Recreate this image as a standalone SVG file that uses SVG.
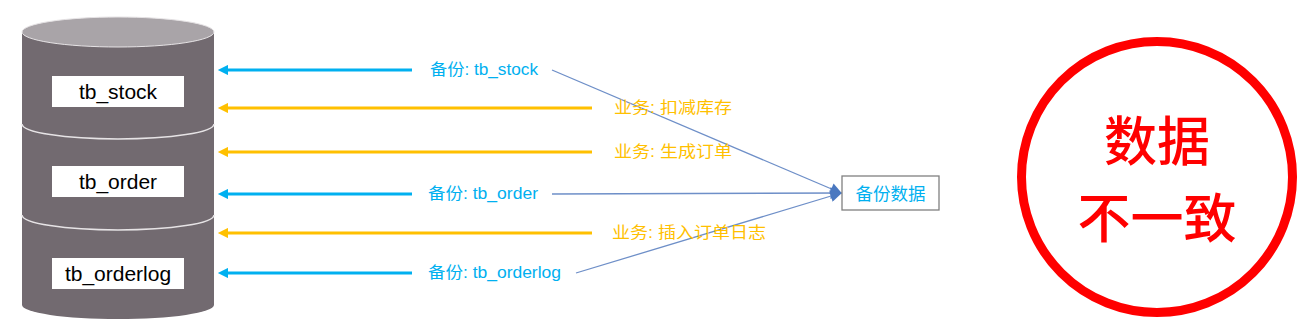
<svg xmlns="http://www.w3.org/2000/svg" width="1312" height="336" viewBox="0 0 1312 336">
<style>
.body{fill:#726A70}
.sep{fill:none;stroke:#E6E3E5;stroke-width:1.5}
.lbl{fill:#FFFFFF}
.tname{font-family:"Liberation Sans","Noto Sans",sans-serif;font-size:21px;fill:#000}
.blue{stroke:#00B0F0;stroke-width:3;fill:none}
.orange{stroke:#FFC000;stroke-width:3;fill:none}
.thin{stroke:#6E8FC8;stroke-width:1.3;fill:none}
.tb{font-family:"Liberation Sans","Noto Sans CJK SC",sans-serif;font-size:16px;fill:#00B0F0}
.to{font-family:"Liberation Sans","Noto Sans CJK SC",sans-serif;font-size:16px;fill:#FFC000}
.big{font-family:"Noto Sans CJK SC",sans-serif;font-size:53px;fill:#FF0000;font-weight:500}
</style>
<defs>
<marker id="hb" viewBox="0 0 10 10" refX="1" refY="5" markerWidth="4" markerHeight="3.4" orient="auto-start-reverse" markerUnits="strokeWidth"><path d="M0,0 L10,5 L0,10 Z" fill="#00B0F0"/></marker>
<marker id="ho" viewBox="0 0 10 10" refX="1" refY="5" markerWidth="4" markerHeight="3.4" orient="auto-start-reverse" markerUnits="strokeWidth"><path d="M0,0 L10,5 L0,10 Z" fill="#FFC000"/></marker>
<marker id="ht" viewBox="0 0 10 10" refX="9" refY="5" markerWidth="10" markerHeight="9" orient="auto" markerUnits="strokeWidth"><path d="M0,0 L10,5 L0,10 Z" fill="#4A78C0"/></marker>
</defs>
<g id="database">
<path class="body" d="M22,32 L22,305 A96,14 0 0 0 214,305 L214,32 Z"/>
<ellipse cx="118" cy="32" rx="96" ry="15" fill="#A9A4A8" stroke="#E6E3E5" stroke-width="1"/>
<path class="sep" d="M22,124 A96,15 0 0 0 214,124"/>
<path class="sep" d="M22,215 A96,15 0 0 0 214,215"/>
</g>
<g id="tb_stock">
<rect class="lbl" x="52" y="76" width="132" height="31"/>
<text class="tname" x="118" y="99" text-anchor="middle">tb_stock</text>
</g>
<g id="tb_order">
<rect class="lbl" x="52" y="166" width="132" height="31"/>
<text class="tname" x="118" y="189" text-anchor="middle">tb_order</text>
</g>
<g id="tb_orderlog">
<rect class="lbl" x="52" y="258" width="132" height="31"/>
<text class="tname" x="118" y="281" text-anchor="middle">tb_orderlog</text>
</g>
<g id="connectors">
<line class="blue" x1="412" y1="70" x2="227" y2="70" marker-end="url(#hb)"/>
<line class="orange" x1="592" y1="108" x2="227" y2="108" marker-end="url(#ho)"/>
<line class="orange" x1="592" y1="152" x2="227" y2="152" marker-end="url(#ho)"/>
<line class="blue" x1="412" y1="194" x2="227" y2="194" marker-end="url(#hb)"/>
<line class="orange" x1="592" y1="233" x2="227" y2="233" marker-end="url(#ho)"/>
<line class="blue" x1="412" y1="273" x2="227" y2="273" marker-end="url(#hb)"/>
<line class="thin" x1="552" y1="70" x2="841" y2="193" marker-end="url(#ht)"/>
<line class="thin" x1="552" y1="194" x2="841" y2="193" marker-end="url(#ht)"/>
<line class="thin" x1="576" y1="273" x2="841" y2="193" marker-end="url(#ht)"/>
</g>
<g id="labels">
<text class="tb" x="430" y="75" textLength="108" lengthAdjust="spacingAndGlyphs">备份: tb_stock</text>
<text class="to" x="614" y="113" textLength="118" lengthAdjust="spacingAndGlyphs">业务: 扣减库存</text>
<text class="to" x="614" y="157" textLength="118" lengthAdjust="spacingAndGlyphs">业务: 生成订单</text>
<text class="tb" x="428" y="199" textLength="110" lengthAdjust="spacingAndGlyphs">备份: tb_order</text>
<text class="to" x="612" y="238" textLength="154" lengthAdjust="spacingAndGlyphs">业务: 插入订单日志</text>
<text class="tb" x="428" y="278" textLength="133" lengthAdjust="spacingAndGlyphs">备份: tb_orderlog</text>
</g>
<g id="backup">
<rect x="842" y="176" width="97" height="34" fill="#FFFFFF" stroke="#808080" stroke-width="1.3"/>
<text x="890.5" y="199.5" text-anchor="middle" font-family="Noto Sans CJK SC, sans-serif" font-size="17.5" fill="#00B0F0">备份数据</text>
</g>
<g id="inconsistent">
<circle cx="1157" cy="177" r="135.5" fill="#FFFFFF" stroke="#FF0000" stroke-width="9"/>
<text class="big" x="1157" y="161" text-anchor="middle">数据</text>
<text class="big" x="1157" y="238" text-anchor="middle">不一致</text>
</g>
</svg>
